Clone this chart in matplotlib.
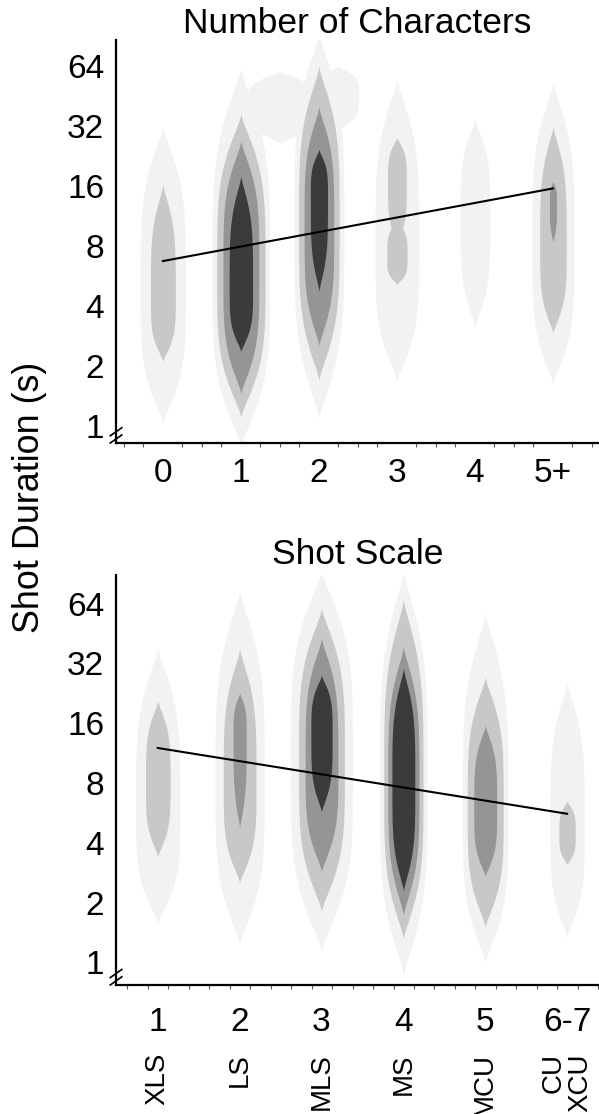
import numpy as np
import matplotlib
matplotlib.use('Agg')
from matplotlib import pyplot as plt
from matplotlib.ticker import MultipleLocator, NullLocator

plt.rcParams['font.family'] = ['Liberation Sans', 'DejaVu Sans']

# gray levels of the density contours, light -> dark
level_colors = ['#f2f2f2', '#c8c8c8', '#959595', '#3b3b3b']

# top panel: number of characters
chars_labels = ['0', '1', '2', '3', '4', '5+']
# (category position, level, low s, high s, widest at s, half width)
chars_shapes = [
    (0, 0, 1.02, 32, 5, 0.29),
    (0, 1, 2.1, 16.3, 4.5, 0.16),
    (1, 0, 0.78, 63, 6, 0.37),
    (1, 1, 1.1, 37, 6, 0.31),
    (1, 2, 1.44, 27, 6, 0.23),
    (1, 3, 2.35, 18, 5, 0.15),
    (1.5, 0, 26, 60, 42, 0.42),
    (2, 0, 1.08, 95, 10, 0.32),
    (2.25, 0, 30, 64, 46, 0.26),
    (2, 1, 1.68, 64, 10, 0.26),
    (2, 2, 2.5, 40, 10, 0.19),
    (2, 3, 4.7, 24.4, 14, 0.11),
    (3, 0, 1.66, 55, 8, 0.28),
    (3, 1, 8, 28, 17, 0.12),
    (3, 1, 5.1, 11, 7, 0.13),
    (4, 0, 3.1, 35, 11, 0.19),
    (5, 0, 1.59, 53, 8, 0.27),
    (5, 1, 2.9, 32, 8, 0.17),
    (5, 2, 8.3, 16.9, 13, 0.045),
]
chars_fit = [6.7, 15.5]   # regression line at first / last category

# bottom panel: shot scale
scale_labels = ['1', '2', '3', '4', '5', '6-7']
scale_names = ['XLS', 'LS', 'MLS', 'MS', 'MCU', 'CU\nXCU']
scale_shapes = [
    (0, 0, 1.56, 38.6, 6, 0.27),
    (0, 1, 3.4, 20.8, 8, 0.15),
    (1, 0, 1.22, 75, 8, 0.30),
    (1, 1, 2.5, 38, 8, 0.20),
    (1, 2, 4.7, 22.8, 14, 0.08),
    (2, 0, 1.13, 95, 10, 0.38),
    (2, 1, 1.8, 61, 10, 0.28),
    (2, 2, 2.85, 43, 10, 0.20),
    (2, 3, 5.7, 28, 14, 0.13),
    (3, 0, 0.85, 95, 8, 0.29),
    (3, 1, 1.3, 68, 8, 0.24),
    (3, 2, 1.72, 39, 8, 0.19),
    (3, 3, 2.27, 30.5, 8, 0.14),
    (4, 0, 0.98, 58, 6, 0.28),
    (4, 1, 1.5, 27.5, 6, 0.22),
    (4, 2, 2.7, 15.7, 6, 0.14),
    (5, 0, 1.32, 26, 5, 0.21),
    (5, 1, 3.1, 6.5, 4.5, 0.10),
]
scale_fit = [12, 5.6]

yticks = [1, 2, 4, 8, 16, 32, 64]


def blob(ax, x0, lo, hi, peak, hw, color):
    # flat sided contour with tapering tips, built in log2 space
    t0, t1, tp = np.log2(lo), np.log2(hi), np.log2(peak)
    t = np.linspace(t0, t1, 300)
    s = np.where(t < tp, (t - tp) / (tp - t0), (t - tp) / (t1 - tp))
    w = hw * np.clip(1 - np.abs(s) ** 4, 0, None) ** 1.5
    ax.fill_betweenx(2 ** t, x0 - w, x0 + w, color=color, lw=0, zorder=1)


def panel(ax, shapes, labels, fit, title, xlim, ylim, tick_offset, title_pad, label_pad):
    for sh in sorted(shapes, key=lambda r: r[1]):
        blob(ax, sh[0], sh[2], sh[3], sh[4], sh[5], level_colors[sh[1]])
    ax.plot([0, len(labels) - 1], fit, color='black', lw=1.5, zorder=3)
    ax.set_yscale('log', base=2)
    ax.set_ylim(*ylim)
    ax.set_xlim(*xlim)
    ax.set_yticks(yticks)
    ax.set_yticklabels([str(v) for v in yticks])
    ax.yaxis.set_minor_locator(NullLocator())
    ax.set_xticks(range(len(labels)))
    ax.set_xticklabels(labels)
    ax.xaxis.set_minor_locator(MultipleLocator(0.25, offset=tick_offset))
    ax.tick_params(axis='both', which='major', length=0, labelsize=24)
    ax.tick_params(axis='y', pad=8.5)
    ax.tick_params(axis='x', pad=label_pad)
    ax.tick_params(axis='x', which='minor', length=3, width=0.8, color='#555555')
    for side in ['top', 'right']:
        ax.spines[side].set_visible(False)
    for side in ['left', 'bottom']:
        ax.spines[side].set_linewidth(1.6)
    ax.set_title(title, fontsize=25.5, pad=title_pad)
    # axis break marks at the origin
    for dy in [0.012, 0.030]:
        ax.plot([-0.012, 0.012], [dy - 0.012, dy + 0.008], transform=ax.transAxes,
                color='black', lw=1.2, clip_on=False, zorder=5)


fig = plt.figure(figsize=(5.99, 11.14), dpi=100)
ax1 = fig.add_axes([0.1937, 0.6023, 0.8063, 0.3618])
ax2 = fig.add_axes([0.1937, 0.1158, 0.8063, 0.3680])

panel(ax1, chars_shapes, chars_labels, chars_fit, 'Number of Characters',
      (-0.6, 5.59), (0.82, 86), 0.0, 4, 11)
panel(ax2, scale_shapes, scale_labels, scale_fit, 'Shot Scale',
      (-0.51, 5.39), (0.77, 89), 0.13, 8, 16)

for i, name in enumerate(scale_names):
    ax2.text(i, -0.166, name, transform=ax2.get_xaxis_transform(), rotation=90,
             ha='center', va='top', ma='right', fontsize=20, linespacing=1.05)

fig.text(0.050, 0.5534, 'Shot Duration (s)', rotation=90, ha='center', va='center',
         fontsize=25.8)

plt.savefig('out.png', dpi=100)
